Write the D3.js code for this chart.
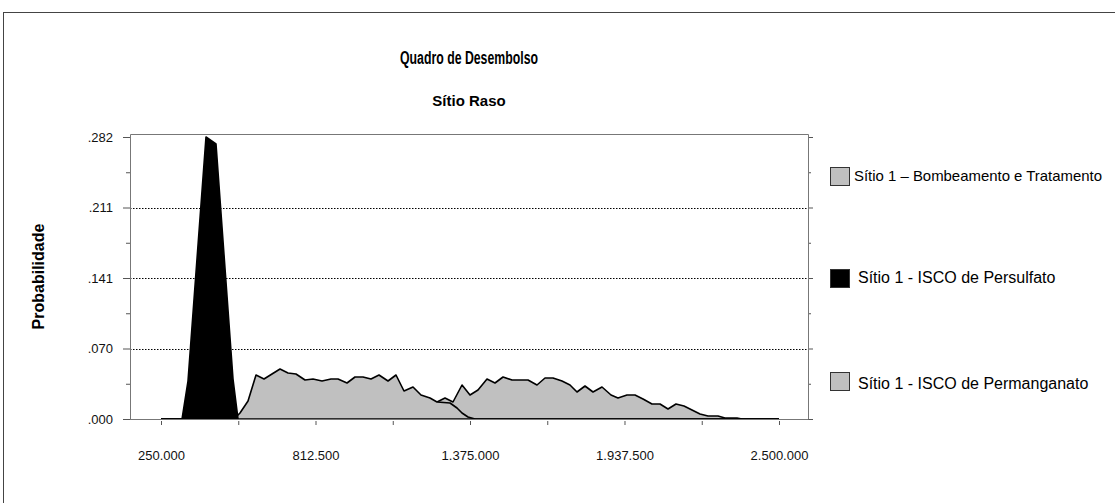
<!DOCTYPE html>
<html>
<head>
<meta charset="utf-8">
<style>
    body { margin: 0; background: white; }
    svg { font-family: "Liberation Sans", Arial, sans-serif; }
    .grade { stroke: black; stroke-width: 1; stroke-dasharray: 1.5,1.5; }
    .moldura { stroke: #777; stroke-width: 1; fill: none; }
</style>
</head>
<body>
<div id="grafico"></div>
<script src="https://cdn.jsdelivr.net/npm/d3@7"></script>
<script>

//////////////////// dados ////////////////////
let titulo = 'Quadro de Desembolso';
let subtitulo = 'Sítio Raso';
let rotulo_y = 'Probabilidade';

let x_ticks = [250000, 812500, 1375000, 1937500, 2500000];
let x_rotulos = ['250.000', '812.500', '1.375.000', '1.937.500', '2.500.000'];
let y_ticks = [0, 0.0705, 0.141, 0.2115, 0.282];
let y_rotulos = ['.000', '.070', '.141', '.211', '.282'];

let series_nomes = ['Sítio 1 – Bombeamento e Tratamento', 'Sítio 1 - ISCO de Persulfato', 'Sítio 1 - ISCO de Permanganato'];
let series_cores = ['#c0c0c0', '#000000', '#c0c0c0'];

// custo (x) / probabilidade (y)
let persulfato_x = [250000, 326500, 348300, 413800, 450200, 512100, 530300, 2500000];
let persulfato_y = [0, 0, 0.038, 0.282, 0.275, 0.040, 0, 0];

let permanganato_x = [250000, 515800, 537600, 566800, 595900, 625000, 654100, 683300, 712400, 741500, 774300,
    803400, 836200, 868900, 894400, 927200, 956300, 985400, 1014600, 1043700, 1076500, 1105600, 1134700,
    1167500, 1196600, 1229400, 1254900, 1302200, 1327700, 1345900, 1367700, 1393200, 2500000];
let permanganato_y = [0, 0, 0.006, 0.018, 0.044, 0.040, 0.045, 0.050, 0.046, 0.045, 0.039,
    0.040, 0.038, 0.040, 0.040, 0.036, 0.042, 0.042, 0.040, 0.044, 0.038, 0.044, 0.028,
    0.032, 0.024, 0.021, 0.017, 0.016, 0.011, 0.006, 0.002, 0, 0];

let bombeamento_x = [250000, 1101900, 1163800, 1222100, 1254900, 1284000, 1313100, 1345900, 1375000, 1404100,
    1436900, 1466000, 1495200, 1527900, 1557000, 1586200, 1618900, 1648100, 1677200, 1710000, 1739100,
    1764600, 1793700, 1822800, 1855600, 1888400, 1913800, 1946600, 1975700, 2004900, 2037600, 2066800,
    2095900, 2125000, 2154100, 2183300, 2212400, 2241500, 2277900, 2303400, 2347100, 2365300, 2500000];
let bombeamento_y = [0, 0, 0.006, 0.012, 0.017, 0.021, 0.017, 0.034, 0.024, 0.029,
    0.040, 0.036, 0.042, 0.039, 0.039, 0.039, 0.034, 0.041, 0.041, 0.038, 0.034,
    0.027, 0.033, 0.027, 0.032, 0.024, 0.021, 0.024, 0.024, 0.020, 0.015, 0.015,
    0.010, 0.015, 0.013, 0.009, 0.005, 0.003, 0.003, 0.001, 0.001, 0, 0];

//////////////////// position ////////////////////
let W = 1115;
let H = 503;
let plot_L = 130;
let plot_R = 808;
let plot_T = 134;
let plot_B = 419;

let svg = d3.select('#grafico').append('svg')
    .attr('width', W)
    .attr('height', H);

// cadre exterieur
svg.append('rect')
    .attr('x', 3.5).attr('y', 12.5)
    .attr('width', W + 10).attr('height', H + 10)
    .attr('fill', 'white')
    .attr('stroke', '#444').attr('stroke-width', 1);

let x = d3.scaleLinear().domain([137100, 2605600]).range([plot_L, plot_R]);
let y = d3.scaleLinear().domain([0, 0.285]).range([plot_B, plot_T]);

// titres
svg.append('text')
    .attr('x', (plot_L + plot_R) / 2).attr('y', 64)
    .attr('text-anchor', 'middle')
    .attr('font-weight', 'bold').attr('font-size', 17.5)
    .attr('textLength', 138).attr('lengthAdjust', 'spacingAndGlyphs')
    .text(titulo);
svg.append('text')
    .attr('x', (plot_L + plot_R) / 2).attr('y', 106)
    .attr('text-anchor', 'middle')
    .attr('font-weight', 'bold').attr('font-size', 15)
    .text(subtitulo);
svg.append('text')
    .attr('transform', `translate(44, ${(plot_T + plot_B) / 2}) rotate(-90)`)
    .attr('text-anchor', 'middle')
    .attr('font-weight', 'bold').attr('font-size', 16)
    .text(rotulo_y);

// grille pointillee
svg.append('g').selectAll('line')
    .data(y_ticks.slice(1, 4))
    .join('line')
    .classed('grade', true)
    .attr('x1', plot_L).attr('x2', plot_R)
    .attr('y1', (d) => Math.round(y(d)) + 0.5)
    .attr('y2', (d) => Math.round(y(d)) + 0.5);

// ticks mineurs
let y_minor = d3.pairs(y_ticks).map((p) => (p[0] + p[1]) / 2);
let x_minor = d3.pairs(x_ticks).map((p) => (p[0] + p[1]) / 2);

svg.append('g')
    .attr('transform', `translate(${plot_L}, 0)`)
    .call(d3.axisLeft(y).tickValues(y_ticks).tickFormat((d, i) => y_rotulos[i]).tickSize(7).tickPadding(10));
svg.append('g')
    .attr('transform', `translate(${plot_L}, 0)`)
    .call(d3.axisLeft(y).tickValues(y_minor).tickFormat('').tickSize(4));
svg.append('g')
    .attr('transform', `translate(${plot_R}, 0)`)
    .call(d3.axisRight(y).tickValues(y_ticks).tickFormat('').tickSize(5));
svg.append('g')
    .attr('transform', `translate(${plot_R}, 0)`)
    .call(d3.axisRight(y).tickValues(y_minor).tickFormat('').tickSize(3));
svg.append('g')
    .attr('transform', `translate(0, ${plot_B + 2})`)
    .call(d3.axisBottom(x).tickValues(x_ticks.concat(x_minor)).tickFormat((d) => {
        let i = x_ticks.indexOf(d);
        return i >= 0 ? x_rotulos[i] : '';
    }).tickSize(4).tickPadding(26));

svg.selectAll('.domain').remove();
svg.selectAll('.tick line').attr('stroke', '#555');
svg.selectAll('.tick text').attr('font-size', 13).attr('fill', '#111').attr('font-family', '"Liberation Sans", Arial, sans-serif');

// series
let area = d3.area()
    .x((d) => x(d[0]))
    .y0(y(0))
    .y1((d) => y(d[1]));
let linha = d3.line()
    .x((d) => x(d[0]))
    .y((d) => y(d[1]));

let series = [
    { pts: d3.zip(bombeamento_x, bombeamento_y), cor: series_cores[0] },
    { pts: d3.zip(permanganato_x, permanganato_y), cor: series_cores[2] },
    { pts: d3.zip(persulfato_x, persulfato_y), cor: series_cores[1] },
];

series.forEach((s) => {
    svg.append('path')
        .attr('d', area(s.pts))
        .attr('fill', s.cor);
    svg.append('path')
        .attr('d', linha(s.pts))
        .attr('fill', 'none')
        .attr('stroke', 'black')
        .attr('stroke-width', 1.6)
        .attr('stroke-linejoin', 'round');
});

// cadre du graphe
svg.append('path')
    .classed('moldura', true)
    .attr('d', `M ${plot_L + 0.5} ${plot_B + 0.5} L ${plot_L + 0.5} ${plot_T + 0.5} L ${plot_R + 0.5} ${plot_T + 0.5} L ${plot_R + 0.5} ${plot_B + 0.5}`);
svg.append('line')
    .attr('x1', plot_L).attr('x2', plot_R)
    .attr('y1', plot_B + 0.5).attr('y2', plot_B + 0.5)
    .attr('stroke', '#777');

// legende
let legenda_y = [167, 269, 372];
let legenda_tx = [854, 858, 858];
let legenda_base = [181, 283, 389];
series_nomes.forEach((nome, i) => {
    svg.append('rect')
        .attr('x', 830.5).attr('y', legenda_y[i] + 0.5)
        .attr('width', 19).attr('height', 18)
        .attr('fill', series_cores[i])
        .attr('stroke', '#333');
    let t = svg.append('text')
        .attr('x', legenda_tx[i]).attr('y', legenda_base[i])
        .attr('font-size', 16)
        .text(nome);
    // la premiere legende touche le bord: on la serre un peu
    if (i == 0) {
        t.attr('font-size', 15).attr('textLength', 248).attr('lengthAdjust', 'spacingAndGlyphs');
    }
});

</script>
</body>
</html>
